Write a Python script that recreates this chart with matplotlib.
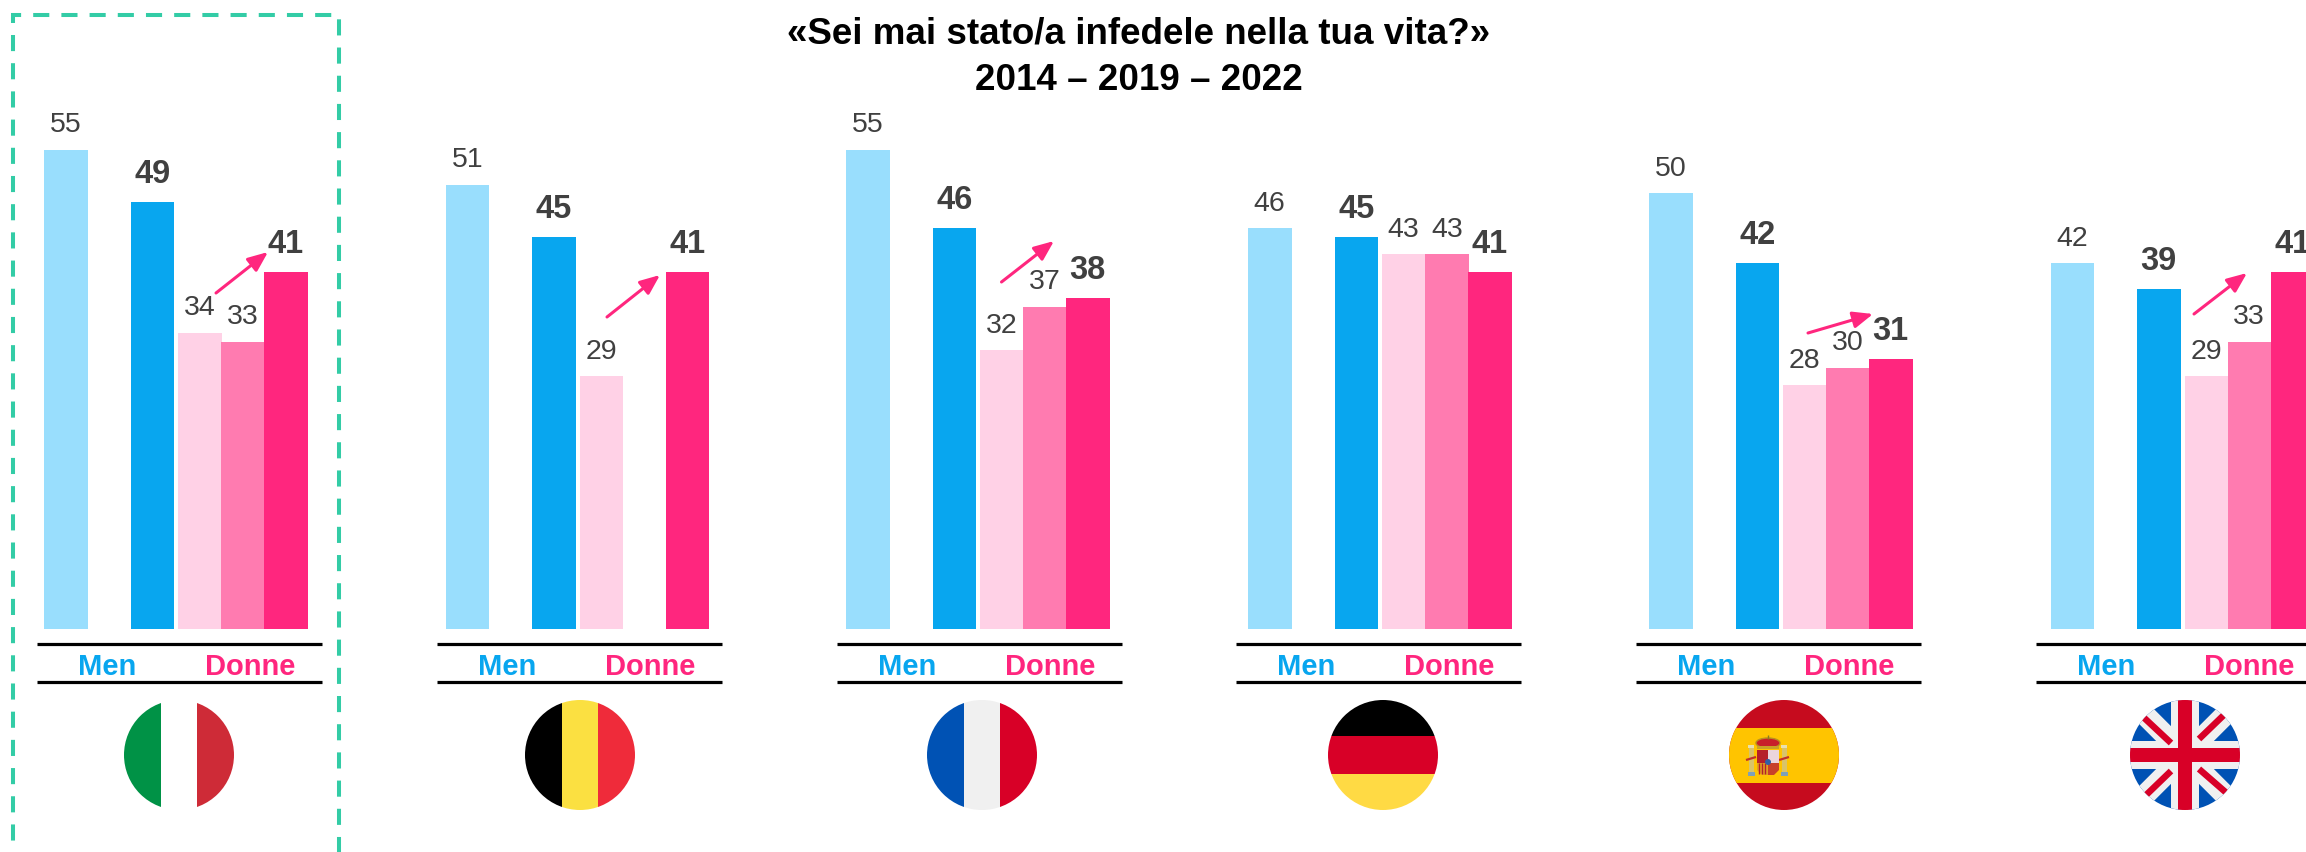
import matplotlib
matplotlib.use("Agg")
import matplotlib.pyplot as plt
from matplotlib.patches import Circle, Rectangle, Polygon, Ellipse
from matplotlib.lines import Line2D

plt.rcParams['font.family'] = ['Liberation Sans', 'DejaVu Sans']

# --- data ---
countries = ['Italia', 'Belgio', 'Francia', 'Germania', 'Spagna', 'UK']
men_2014 = [55, 51, 55, 46, 50, 42]
men_2022 = [49, 45, 46, 45, 42, 39]
women_2014 = [34, 29, 32, 43, 28, 29]
women_2019 = [33, None, 37, 43, 30, 33]
women_2022 = [41, 41, 38, 41, 31, 41]
men_label = 'Men'
women_label = 'Donne'
title_lines = ['«Sei mai stato/a infedele nella tua vita?»', '2014 – 2019 – 2022']

# --- layout, all in px of the 2306x852 picture ---
W, H = 2306, 852
BASE_Y = 629
PX_PER_UNIT = 8.71
BAR_W = 43.5
bar_start = [44, 445.5, 846, 1248, 1649, 2050.5]
bar_off = [0, 86.5, 134, 177, 220]
rule_start = [37, 437, 837, 1236, 1636, 2036]
flag_x = [179, 580, 982, 1383, 1784, 2185]
flag_y = 755
flag_r = 55
arrows = [((216, 293), (268, 252)), ((607, 317), (660, 275)), ((1001.5, 282), (1054, 241)),
          None, ((1808, 333), (1873, 314)), ((2194, 314), (2247, 273))]

LIGHT_BLUE = '#99DEFD'
BLUE = '#08A6EF'
PALE_PINK = '#FFD1E6'
MID_PINK = '#FF7BB0'
HOT_PINK = '#FF267E'
TXT = '#404040'
GREEN_BOX = '#33CCA6'

fig = plt.figure(figsize=(W / 100, H / 100), dpi=100, facecolor='white')

# axes for the bars: y is the real value
ax = fig.add_axes([0, 0, 1, 1])
ax.set_xlim(0, W)
ax.set_ylim((BASE_Y - H) / PX_PER_UNIT, BASE_Y / PX_PER_UNIT)
ax.axis('off')

# overlay in px for rules, flags, arrows
ov = fig.add_axes([0, 0, 1, 1])
ov.set_xlim(0, W)
ov.set_ylim(H, 0)
ov.axis('off')
ov.patch.set_alpha(0)

series = [men_2014, men_2022, women_2014, women_2019, women_2022]
colors = [LIGHT_BLUE, BLUE, PALE_PINK, MID_PINK, HOT_PINK]
is_bold = [False, True, False, False, True]

for c in range(len(countries)):
    for s in range(5):
        v = series[s][c]
        if v is None:
            continue
        x = bar_start[c] + bar_off[s]
        ax.bar(x, v, width=BAR_W, align='edge', color=colors[s], linewidth=0)
        if is_bold[s]:
            ax.annotate(str(v), (x + BAR_W / 2, v), xytext=(0, 13.6), textcoords='offset points',
                        ha='center', va='baseline', fontsize=23.5, fontweight='bold', color=TXT)
        else:
            ax.annotate(str(v), (x + BAR_W / 2, v), xytext=(0, 12.6), textcoords='offset points',
                        ha='center', va='baseline', fontsize=20.5, color=TXT)

    x0 = rule_start[c]
    ov.plot([x0, x0 + 285], [644, 644], color='black', lw=2.3, solid_capstyle='butt')
    ov.plot([x0, x0 + 285], [682, 682], color='black', lw=2.3, solid_capstyle='butt')
    ov.text(x0 + 70, 667, men_label, color=BLUE, fontsize=21, fontweight='bold', ha='center', va='center')
    ov.text(x0 + 213, 667, women_label, color=HOT_PINK, fontsize=21, fontweight='bold', ha='center', va='center')

    if arrows[c] is not None:
        ov.annotate('', xy=arrows[c][1], xytext=arrows[c][0],
                    arrowprops=dict(arrowstyle='-|>,head_length=12,head_width=5', mutation_scale=1,
                                    color=HOT_PINK, lw=2.2, shrinkA=0, shrinkB=0))

# --- flags ---
# each piece gets its own zorder so patches and lines stack in drawing order
order = [3]


def clip_to(artist, cx, cy):
    clip = Circle((cx, cy), flag_r, transform=ov.transData)
    artist.set_clip_path(clip)
    order[0] += 0.01
    artist.set_zorder(order[0])
    return artist


def rect(cx, cy, x, y, w, h, col):
    r = Rectangle((cx + x, cy + y), w, h, facecolor=col, edgecolor='none')
    ov.add_patch(r)
    return clip_to(r, cx, cy)


def poly(cx, cy, pts, col):
    p = Polygon([(cx + a, cy + b) for a, b in pts], facecolor=col, edgecolor='none')
    ov.add_patch(p)
    return clip_to(p, cx, cy)


def line(cx, cy, x1, y1, x2, y2, col, width_px):
    l = Line2D([cx + x1, cx + x2], [cy + y1, cy + y2], color=col, lw=width_px * 0.72, solid_capstyle='butt')
    ov.add_line(l)
    return clip_to(l, cx, cy)


def vertical_flag(cx, cols):
    rect(cx, flag_y, -55, -55, 36.7, 110, cols[0])
    rect(cx, flag_y, -18.3, -55, 36.6, 110, cols[1])
    rect(cx, flag_y, 18.3, -55, 36.7, 110, cols[2])


vertical_flag(flag_x[0], ['#009246', '#FFFFFF', '#CE2B37'])
vertical_flag(flag_x[1], ['#000000', '#FBE041', '#EF2B3A'])
vertical_flag(flag_x[2], ['#0052B4', '#F0F0F0', '#D80027'])

# Germany
cx = flag_x[3]
rect(cx, flag_y, -55, -55, 110, 36, '#000000')
rect(cx, flag_y, -55, -19, 110, 38, '#D80027')
rect(cx, flag_y, -55, 19, 110, 36, '#FFDA44')

# Spain, coat of arms only roughly
cx = flag_x[4]
rect(cx, flag_y, -55, -55, 110, 110, '#C60B1E')
rect(cx, flag_y, -55, -27, 110, 55, '#FFC400')
ac = -16
for px in (ac - 17, ac + 16):
    rect(cx, flag_y, px - 2.5, -8, 5, 25, '#D9C36A')
    rect(cx, flag_y, px - 3.5, 17, 7, 4, '#7FA0B8')
    rect(cx, flag_y, px - 3, -10, 6, 3, '#E8E0B0')
    line(cx, flag_y, px - 5, 5, px + 5, 2, '#C0302A', 2.2)
e = Ellipse((cx + ac, flag_y - 12), 24, 10, facecolor='#C8202A', edgecolor='#B89020', lw=1)
ov.add_patch(e)
clip_to(e, cx, flag_y)
rect(cx, flag_y, ac - 11, -9, 22, 3, '#C9A227')
line(cx, flag_y, ac, -20, ac, -16, '#8A7A20', 1.4)
rect(cx, flag_y, ac - 11, -5, 11, 13, '#B5202A')
rect(cx, flag_y, ac, -5, 11, 13, '#EBD5DC')
poly(cx, flag_y, [(ac - 11, 8), (ac, 8), (ac, 20), (ac - 6, 20), (ac - 11, 15)], '#E0A020')
poly(cx, flag_y, [(ac, 8), (ac + 11, 8), (ac + 11, 15), (ac + 6, 20), (ac, 20)], '#C8402A')
for sx in (-9, -6, -3):
    line(cx, flag_y, ac + sx, 8, ac + sx, 19, '#B5202A', 1.4)
c = Circle((cx + ac, flag_y + 7), 3, facecolor='#2F5FA8', edgecolor='none')
ov.add_patch(c)
clip_to(c, cx, flag_y)

# UK
cx = flag_x[5]
rect(cx, flag_y, -55, -55, 110, 110, '#0052B4')
line(cx, flag_y, -55, -55, 55, 55, '#F0F0F0', 21)
line(cx, flag_y, -55, 55, 55, -55, '#F0F0F0', 21)
rect(cx, flag_y, -14, -55, 28, 110, '#F0F0F0')
rect(cx, flag_y, -55, -14, 110, 28, '#F0F0F0')
line(cx, flag_y, -45, -41, -14, -12, '#D80027', 6.5)
line(cx, flag_y, 14, -16, 42, -43, '#D80027', 6.5)
line(cx, flag_y, 14, 14, 45, 41, '#D80027', 6.5)
line(cx, flag_y, -14, 16, -42, 43, '#D80027', 6.5)
rect(cx, flag_y, -7.3, -55, 14.6, 110, '#D80027')
rect(cx, flag_y, -55, -7.3, 110, 14.6, '#D80027')

# --- green dashed box around Italy, open below the picture ---
dash = (0, (4, 3))
ov.plot([12.5, 12.5, 338.5, 338.5], [23, 15, 15, H + 10], color=GREEN_BOX, lw=2.9,
        linestyle=dash, dash_capstyle='butt', dash_joinstyle='miter')
ov.plot([12.5, 12.5], [35, H + 10], color=GREEN_BOX, lw=2.9, linestyle=dash, dash_capstyle='butt')

# --- title ---
ov.text(1139, 44, title_lines[0], fontsize=26.5, fontweight='bold', color='black', ha='center', va='baseline')
ov.text(1139, 90, title_lines[1], fontsize=26.5, fontweight='bold', color='black', ha='center', va='baseline')

fig.savefig('out.png', dpi=100, facecolor='white')
